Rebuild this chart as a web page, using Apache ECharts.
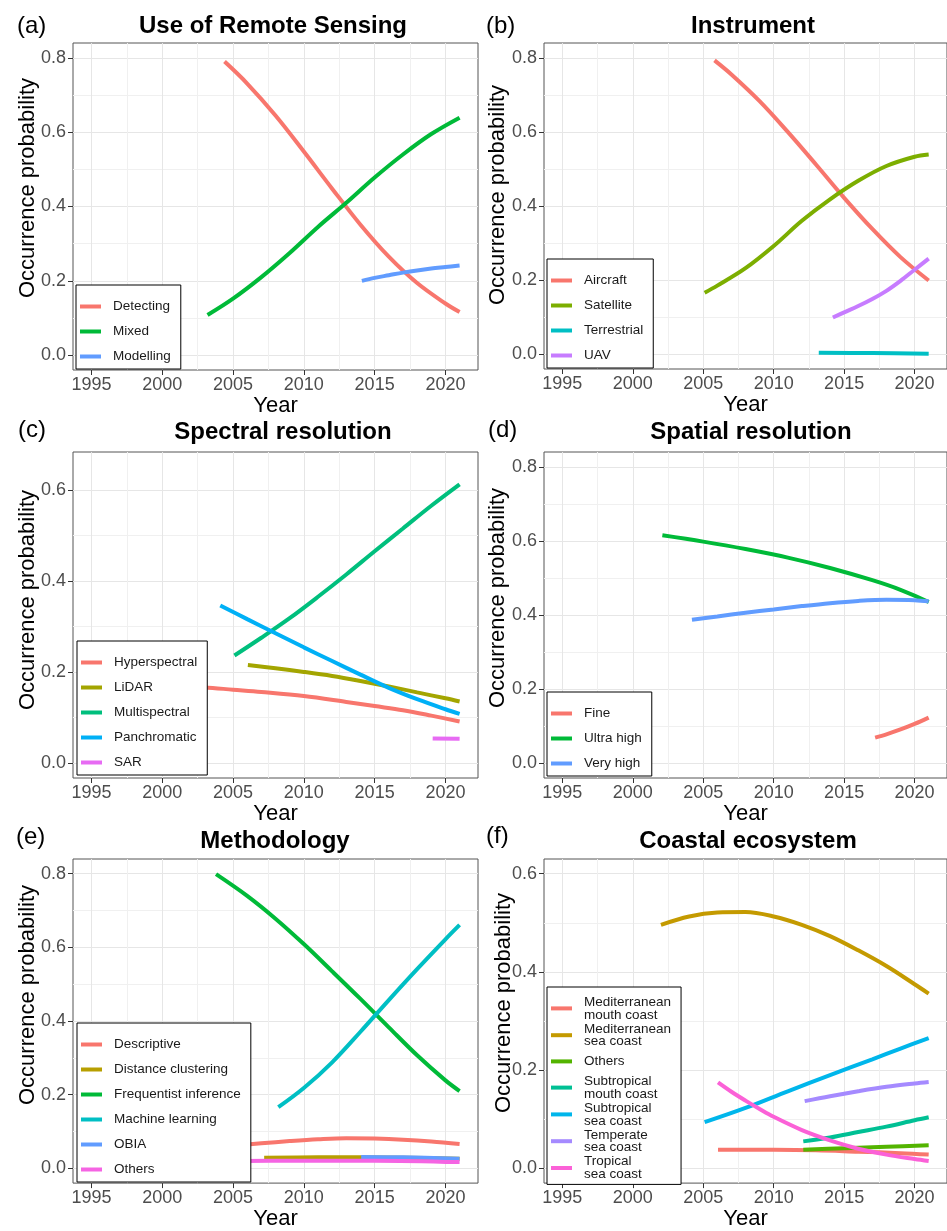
<!DOCTYPE html>
<html>
<head>
<meta charset="utf-8">
<script src="https://cdn.jsdelivr.net/npm/echarts@6/dist/echarts.min.js"></script>
<style>
html,body{margin:0;padding:0;background:#fff;}
#chart{width:947px;height:1231px;}
</style>
</head>
<body>
<div id="chart"></div>
<script>
// ---------------- DATA ----------------
const panelTitles = ['Use of Remote Sensing', 'Instrument', 'Spectral resolution', 'Spatial resolution', 'Methodology', 'Coastal ecosystem'];
const panelLetters = ['(a)', '(b)', '(c)', '(d)', '(e)', '(f)'];
const xMajorTicks = [1995, 2000, 2005, 2010, 2015, 2020];
const xMinorTicks = [1997.5, 2002.5, 2007.5, 2012.5, 2017.5];
const yMajorTicks8 = [0, 0.2, 0.4, 0.6, 0.8];
const yMinorTicks8 = [0.1, 0.3, 0.5, 0.7];
const yMajorTicks6 = [0, 0.2, 0.4, 0.6];
const yMinorTicks6 = [0.1, 0.3, 0.5];

// (a) Use of Remote Sensing
const aCategories = ['Detecting', 'Mixed', 'Modelling'];
const aDetecting = [[2004.4,0.790],[2006,0.731],[2008,0.645],[2010,0.548],[2012,0.448],[2014,0.351],[2016,0.265],[2018,0.194],[2020,0.139],[2021,0.116]];
const aMixed = [[2003.2,0.108],[2005,0.152],[2007,0.210],[2009,0.275],[2011,0.345],[2013,0.410],[2015,0.478],[2017,0.540],[2019,0.595],[2021,0.639]];
const aModelling = [[2014.1,0.200],[2015,0.208],[2016,0.215],[2017,0.222],[2018,0.228],[2019,0.233],[2020,0.237],[2021,0.241]];

// (b) Instrument
const bCategories = ['Aircraft', 'Satellite', 'Terrestrial', 'UAV'];
const bAircraft = [[2005.8,0.793],[2007,0.755],[2009,0.683],[2011,0.600],[2013,0.512],[2015,0.422],[2017,0.338],[2019,0.262],[2021,0.199]];
const bSatellite = [[2005.1,0.166],[2006,0.185],[2008,0.232],[2010,0.292],[2012,0.360],[2014,0.418],[2016,0.468],[2018,0.508],[2020,0.533],[2021,0.539]];
const bTerrestrial = [[2013.2,0.004],[2017,0.003],[2021,0.001]];
const bUAV = [[2014.2,0.099],[2015,0.113],[2016,0.130],[2017,0.149],[2018,0.171],[2019,0.198],[2020,0.228],[2021,0.258]];

// (c) Spectral resolution
const cCategories = ['Hyperspectral', 'LiDAR', 'Multispectral', 'Panchromatic', 'SAR'];
const cHyperspectral = [[1998,0.175],[2000,0.172],[2003,0.166],[2005,0.161],[2007,0.156],[2010,0.147],[2013,0.134],[2015,0.125],[2017,0.116],[2019,0.104],[2021,0.091]];
const cLiDAR = [[2006.05,0.215],[2008,0.208],[2010,0.200],[2012,0.191],[2014,0.180],[2016,0.168],[2018,0.155],[2020,0.142],[2021,0.135]];
const cMultispectral = [[2005.1,0.236],[2007,0.275],[2009,0.318],[2011,0.365],[2013,0.414],[2015,0.465],[2017,0.515],[2019,0.565],[2021,0.612]];
const cPanchromatic = [[2004.1,0.346],[2006,0.316],[2008,0.285],[2010,0.254],[2012,0.224],[2014,0.194],[2016,0.165],[2018,0.140],[2020,0.118],[2021,0.108]];
const cSAR = [[2019.1,0.054],[2021,0.053]];

// (d) Spatial resolution
const dCategories = ['Fine', 'Ultra high', 'Very high'];
const dFine = [[2017.2,0.069],[2018,0.078],[2019,0.091],[2020,0.106],[2021,0.123]];
const dUltraHigh = [[2002.1,0.615],[2005,0.598],[2008,0.578],[2011,0.555],[2014,0.527],[2017,0.494],[2019,0.468],[2021,0.435]];
const dVeryHigh = [[2004.2,0.387],[2006,0.396],[2008,0.406],[2010,0.415],[2012,0.424],[2014,0.432],[2016,0.438],[2018,0.441],[2020,0.440],[2021,0.437]];

// (e) Methodology
const eCategories = ['Descriptive', 'Distance clustering', 'Frequentist inference', 'Machine learning', 'OBIA', 'Others'];
const eDescriptive = [[2003,0.055],[2005,0.061],[2007,0.068],[2009,0.074],[2011,0.079],[2013,0.082],[2015,0.081],[2017,0.078],[2019,0.073],[2021,0.066]];
const eDistanceClustering = [[2007.2,0.029],[2011,0.030],[2014,0.030],[2017,0.029],[2021,0.026]];
const eFrequentist = [[2003.8,0.799],[2006,0.740],[2008,0.678],[2010,0.609],[2012,0.535],[2014,0.460],[2016,0.383],[2018,0.307],[2020,0.239],[2021,0.210]];
const eMachineLearning = [[2008.2,0.166],[2010,0.218],[2012,0.288],[2014,0.371],[2016,0.457],[2018,0.541],[2020,0.622],[2021,0.661]];
const eOBIA = [[2014.05,0.031],[2017,0.030],[2021,0.026]];
const eOthers = [[2004,0.019],[2010,0.021],[2015,0.021],[2021,0.017]];

// (f) Coastal ecosystem
const fCategories = ['Mediterranean mouth coast', 'Mediterranean sea coast', 'Others', 'Subtropical mouth coast', 'Subtropical sea coast', 'Temperate sea coast', 'Tropical sea coast'];
const fMedMouth = [[2006.05,0.038],[2010,0.038],[2013,0.037],[2016,0.034],[2019,0.031],[2021,0.028]];
const fMedSea = [[2002,0.496],[2004,0.513],[2006,0.521],[2008,0.522],[2010,0.513],[2012,0.496],[2014,0.473],[2016,0.444],[2018,0.412],[2020,0.375],[2021,0.356]];
const fOthers = [[2012.1,0.038],[2015,0.041],[2018,0.044],[2021,0.047]];
const fSubMouth = [[2012.1,0.055],[2014,0.063],[2016,0.074],[2018,0.085],[2020,0.098],[2021,0.104]];
const fSubSea = [[2005.1,0.094],[2008,0.123],[2011,0.157],[2014,0.190],[2017,0.222],[2019,0.244],[2021,0.265]];
const fTemperate = [[2012.2,0.137],[2014,0.147],[2016,0.157],[2018,0.166],[2020,0.173],[2021,0.176]];
const fTropical = [[2006.05,0.175],[2007,0.156],[2008,0.138],[2009,0.121],[2010,0.105],[2012,0.078],[2014,0.057],[2016,0.040],[2018,0.028],[2020,0.019],[2021,0.015]];

// ---------------- STYLE / LAYOUT ----------------
const FONT = "'Liberation Sans', Arial, Helvetica, sans-serif";
const X_MIN = 1993.7, X_MAX = 2022.3;

const panels = [
  { cats: aCategories, data: [aDetecting, aMixed, aModelling],
    colors: ['#F8766D', '#00BA38', '#619CFF'],
    y: [-0.04, 0.84], yMajor: yMajorTicks8, yMinor: yMinorTicks8,
    grid: [73, 43, 405, 327], legend: [76, 285], title: [273, 26], letter: [17, 26], ytitle: [28, 188] },
  { cats: bCategories, data: [bAircraft, bSatellite, bTerrestrial, bUAV],
    colors: ['#F8766D', '#7CAE00', '#00BFC4', '#C77CFF'],
    y: [-0.04, 0.84], yMajor: yMajorTicks8, yMinor: yMinorTicks8,
    grid: [544, 43, 405, 326], legend: [547, 259], title: [753, 26], letter: [486, 26], ytitle: [498, 195] },
  { cats: cCategories, data: [cHyperspectral, cLiDAR, cMultispectral, cPanchromatic, cSAR],
    colors: ['#F8766D', '#A3A500', '#00BF7D', '#00B0F6', '#E76BF3'],
    y: [-0.033, 0.683], yMajor: yMajorTicks6, yMinor: yMinorTicks6,
    grid: [73, 452, 405, 326], legend: [77, 641], title: [283, 432], letter: [18, 430], ytitle: [28, 600] },
  { cats: dCategories, data: [dFine, dUltraHigh, dVeryHigh],
    colors: ['#F8766D', '#00BA38', '#619CFF'],
    y: [-0.04, 0.84], yMajor: yMajorTicks8, yMinor: yMinorTicks8,
    grid: [544, 452, 405, 326], legend: [547, 692], title: [751, 432], letter: [488, 430], ytitle: [498, 598] },
  { cats: eCategories, data: [eDescriptive, eDistanceClustering, eFrequentist, eMachineLearning, eOBIA, eOthers],
    colors: ['#F8766D', '#B79F00', '#00BA38', '#00BFC4', '#619CFF', '#F564E3'],
    y: [-0.04, 0.84], yMajor: yMajorTicks8, yMinor: yMinorTicks8,
    grid: [73, 859, 405, 327], legend: [77, 1023], title: [275, 841], letter: [16, 837], ytitle: [28, 995] },
  { cats: fCategories, data: [fMedMouth, fMedSea, fOthers, fSubMouth, fSubSea, fTemperate, fTropical],
    colors: ['#F8766D', '#C49A00', '#53B400', '#00C094', '#00B6EB', '#A58AFF', '#FB61D7'],
    y: [-0.03, 0.63], yMajor: yMajorTicks6, yMinor: yMinorTicks6,
    grid: [544, 859, 405, 327], legend: [547, 987], title: [748, 841], letter: [486, 836], ytitle: [504, 1003], twoLine: true }
];

const option = {
  animation: false,
  backgroundColor: '#fff',
  grid: [], xAxis: [], yAxis: [], series: [], legend: [], graphic: []
};

const usedNames = {};
panels.forEach((p, i) => {
  option.grid.push({
    left: p.grid[0], top: p.grid[1], width: p.grid[2], height: p.grid[3],
    show: true, borderColor: '#555', borderWidth: 1, backgroundColor: '#fff', containLabel: false
  });
  option.xAxis.push({
    gridIndex: i, type: 'value', min: X_MIN, max: X_MAX,
    axisLine: { show: false, onZero: false },
    axisTick: { show: true, length: 5, lineStyle: { color: '#333', width: 1 }, customValues: xMajorTicks },
    axisLabel: { customValues: xMajorTicks, margin: 6, fontSize: 18, fontFamily: FONT, color: '#4d4d4d',
      formatter: v => String(Math.round(v)) },
    splitLine: { show: true, lineStyle: { color: '#e6e6e6', width: 1 } },
    name: 'Year', nameLocation: 'middle', nameGap: 21,
    nameTextStyle: { fontSize: 22, fontFamily: FONT, color: '#000' }
  });
  option.xAxis.push({
    gridIndex: i, type: 'value', min: X_MIN, max: X_MAX, position: 'bottom',
    axisLine: { show: false, onZero: false },
    axisTick: { show: false, customValues: xMinorTicks },
    axisLabel: { show: false, customValues: xMinorTicks },
    splitLine: { show: true, lineStyle: { color: '#f0f0f0', width: 1 } }
  });
  option.yAxis.push({
    gridIndex: i, type: 'value', min: p.y[0], max: p.y[1],
    axisLine: { show: false, onZero: false },
    axisTick: { show: true, length: 5, lineStyle: { color: '#333', width: 1 }, customValues: p.yMajor },
    axisLabel: { customValues: p.yMajor, margin: 7, fontSize: 18, fontFamily: FONT, color: '#4d4d4d',
      formatter: v => Number(v).toFixed(1) },
    splitLine: { show: true, lineStyle: { color: '#e6e6e6', width: 1 } }
  });
  option.yAxis.push({
    gridIndex: i, type: 'value', min: p.y[0], max: p.y[1], position: 'left',
    axisLine: { show: false, onZero: false },
    axisTick: { show: false, customValues: p.yMinor },
    axisLabel: { show: false, customValues: p.yMinor },
    splitLine: { show: true, lineStyle: { color: '#f0f0f0', width: 1 } }
  });
  const names = [];
  p.cats.forEach((c, k) => {
    let nm = c;
    while (usedNames[nm]) nm += '\u200b';
    usedNames[nm] = true;
    names.push(nm);
    option.series.push({
      type: 'line', name: nm, xAxisIndex: 2 * i, yAxisIndex: 2 * i,
      data: p.data[k], showSymbol: false, symbol: 'none',
      smooth: 0.35,
      lineStyle: { width: 4, color: p.colors[k], cap: 'butt' },
      itemStyle: { color: p.colors[k] },
      silent: true, z: 2 + k * 0.01
    });
  });
  const lg = {
    data: names, left: p.legend[0], top: p.legend[1], orient: 'vertical',
    icon: 'rect', itemWidth: 21, itemHeight: 4,
    backgroundColor: '#fff', borderColor: '#000', borderWidth: 1, borderRadius: 0,
    selectedMode: false, z: 10
  };
  if (p.twoLine) {
    lg.itemGap = 0;
    lg.padding = [8, 10, 3, 4];
    lg.textStyle = { fontSize: 13.5, fontFamily: FONT, color: '#1a1a1a', lineHeight: 12.8, padding: [0, 0, 0, 7],
      rich: { one: { fontSize: 13.5, fontFamily: FONT, color: '#1a1a1a', lineHeight: 25.6 } } };
    lg.formatter = name => {
      const n = name.replace(/\u200b/g, '');
      const s = n.indexOf(' ');
      return s < 0 ? '{one|' + n + '}' : n.slice(0, s) + '\n' + n.slice(s + 1);
    };
  } else {
    lg.itemGap = 10;
    lg.padding = [14, 10, 5, 4];
    lg.textStyle = { fontSize: 13.5, fontFamily: FONT, color: '#1a1a1a', lineHeight: 15, padding: [0, 0, 0, 7] };
    lg.formatter = name => name.replace(/\u200b/g, '');
  }
  option.legend.push(lg);

  option.graphic.push({
    type: 'text', x: p.title[0], y: p.title[1], silent: true,
    style: { text: panelTitles[i], align: 'center', verticalAlign: 'middle',
      font: "bold 24px " + FONT, fill: '#000' }
  });
  option.graphic.push({
    type: 'text', x: p.letter[0], y: p.letter[1], silent: true,
    style: { text: panelLetters[i], align: 'left', verticalAlign: 'middle',
      font: "24px " + FONT, fill: '#000' }
  });
  option.graphic.push({
    type: 'text', x: p.ytitle[0], y: p.ytitle[1], rotation: Math.PI / 2, silent: true,
    style: { text: 'Occurrence probability', align: 'center', verticalAlign: 'middle',
      font: "22px " + FONT, fill: '#000' }
  });
});

const chart = echarts.init(document.getElementById('chart'), null, { renderer: 'canvas' });
chart.setOption(option);
</script>
</body>
</html>
